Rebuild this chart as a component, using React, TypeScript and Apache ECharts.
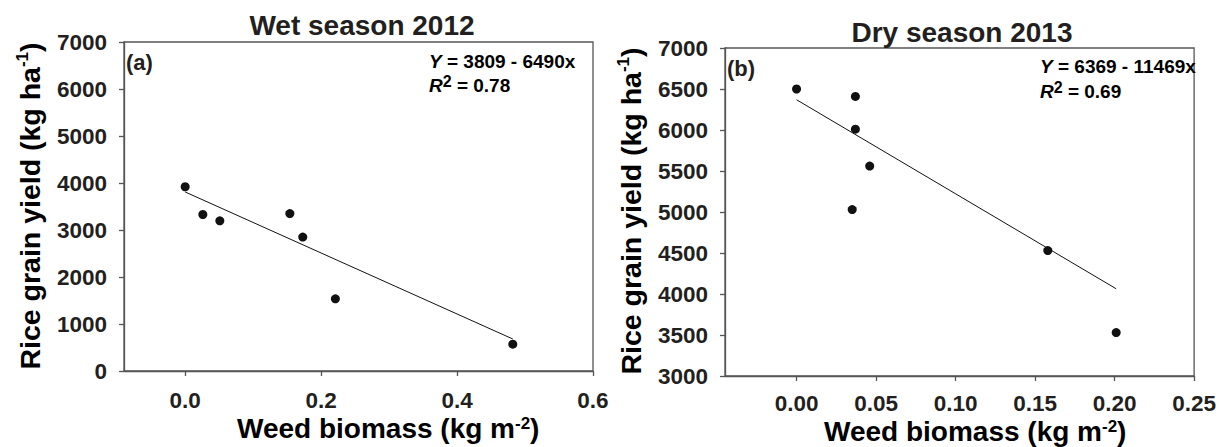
import React, { useEffect, useRef } from "react";
import * as echarts from "echarts";

// ---- Data ----
const wetBiomass = [0.0, 0.026, 0.051, 0.154, 0.173, 0.221, 0.482];
const wetYield = [3920, 3330, 3195, 3350, 2850, 1535, 570];
const dryBiomass = [0.0, 0.037, 0.037, 0.046, 0.035, 0.158, 0.201];
const dryYield = [6500, 6410, 6010, 5560, 5030, 4530, 3530];

// Regression equations printed on the panels
const wetFitCoef = [3809, -6490];
const dryFitCoef = [6369, -11469];

const wetXTicks = [0, 0.2, 0.4, 0.6];
const dryXTicks = [0, 0.05, 0.1, 0.15, 0.2, 0.25];

const panelTitles = ["Wet season 2012", "Dry season 2013"];
const panelLetters = ["(a)", "(b)"];
const equations = ["3809 - 6490x", "6369 - 11469x"];
const r2Values = ["0.78", "0.69"];

const FONT = "'Liberation Sans', Arial, Helvetica, sans-serif";
const TXT = "#231f20";
const AX = "#555555";

function fitLine(coef: number[], xs: number[]) {
  const xMin = Math.min(...xs);
  const xMax = Math.max(...xs);
  return [
    [xMin, coef[0] + coef[1] * xMin],
    [xMax, coef[0] + coef[1] * xMax],
  ];
}

export default function App() {
  const ref = useRef<HTMLDivElement>(null);

  useEffect(() => {
    document.body.style.margin = "0";
    if (!ref.current) return;
    const chart = echarts.init(ref.current, undefined, { renderer: "svg" });

    const axisLine = { show: true, onZero: false, lineStyle: { color: AX, width: 1.3 } };
    const labelBase = {
      fontSize: 22.5,
      lineHeight: 20,
      fontWeight: "bold" as const,
      color: TXT,
      fontFamily: FONT,
    };

    const yTitleRich = {
      n: { fontSize: 28.5, fontWeight: "bold", fontFamily: FONT, color: TXT, lineHeight: 32 },
      s: { fontSize: 17, fontWeight: "bold", fontFamily: FONT, color: TXT, lineHeight: 16, verticalAlign: "top" },
    };
    const xTitleRich = {
      n: { fontSize: 28, fontWeight: "bold", fontFamily: FONT, color: TXT, lineHeight: 26 },
      s: { fontSize: 17, fontWeight: "bold", fontFamily: FONT, color: TXT, lineHeight: 11, verticalAlign: "top" },
    };
    const eqRich = {
      i: { fontSize: 19, fontWeight: "bold", fontStyle: "italic", fontFamily: FONT, color: TXT, lineHeight: 24 },
      n: { fontSize: 19, fontWeight: "bold", fontFamily: FONT, color: TXT, lineHeight: 24 },
      s: { fontSize: 16, fontWeight: "bold", fontFamily: FONT, color: TXT, lineHeight: 11, verticalAlign: "top" },
    };

    const textEl = (x: number, y: number, text: string, size: number, align = "center") => ({
      type: "text",
      x,
      y,
      style: {
        text,
        fontSize: size,
        fontWeight: "bold",
        fontFamily: FONT,
        fill: TXT,
        align,
        verticalAlign: "middle",
      },
    });

    const richEl = (x: number, y: number, text: string, rich: any, align = "left", rotation = 0) => ({
      type: "text",
      x,
      y,
      rotation,
      style: { text, rich, align, verticalAlign: "middle" },
    });

    const option: any = {
      animation: false,
      grid: [
        { left: 124, top: 42, width: 469, height: 329, show: true, borderColor: AX, borderWidth: 1.3 },
        { left: 725, top: 48, width: 472, height: 328, show: true, borderColor: AX, borderWidth: 1.3 },
      ],
      xAxis: [
        {
          gridIndex: 0,
          type: "value",
          min: -0.09,
          max: 0.6,
          axisLine,
          axisTick: { show: true, length: 5, customValues: wetXTicks, lineStyle: { color: AX, width: 1.3 } },
          axisLabel: { ...labelBase, margin: 19, customValues: wetXTicks, formatter: (v: number) => v.toFixed(1) },
          splitLine: { show: false },
        },
        {
          gridIndex: 1,
          type: "value",
          min: -0.045,
          max: 0.25,
          axisLine,
          axisTick: { show: true, length: 5, customValues: dryXTicks, lineStyle: { color: AX, width: 1.3 } },
          axisLabel: { ...labelBase, margin: 17, customValues: dryXTicks, formatter: (v: number) => v.toFixed(2) },
          splitLine: { show: false },
        },
      ],
      yAxis: [
        {
          gridIndex: 0,
          type: "value",
          min: 0,
          max: 7000,
          interval: 1000,
          axisLine,
          axisTick: { show: true, length: 5, lineStyle: { color: AX, width: 1.3 } },
          axisLabel: { ...labelBase, margin: 17, formatter: (v: number) => String(v) },
          splitLine: { show: false },
        },
        {
          gridIndex: 1,
          type: "value",
          min: 3000,
          max: 7000,
          interval: 500,
          axisLine,
          axisTick: { show: true, length: 5, lineStyle: { color: AX, width: 1.3 } },
          axisLabel: { ...labelBase, margin: 17, formatter: (v: number) => String(v) },
          splitLine: { show: false },
        },
      ],
      series: [
        {
          type: "scatter",
          xAxisIndex: 0,
          yAxisIndex: 0,
          symbol: "circle",
          symbolSize: 9,
          itemStyle: { color: "#111111", opacity: 1 },
          data: wetBiomass.map((x, i) => [x, wetYield[i]]),
        },
        {
          type: "line",
          xAxisIndex: 0,
          yAxisIndex: 0,
          symbol: "none",
          lineStyle: { color: "#111111", width: 1 },
          data: fitLine(wetFitCoef, wetBiomass),
        },
        {
          type: "scatter",
          xAxisIndex: 1,
          yAxisIndex: 1,
          symbol: "circle",
          symbolSize: 9,
          itemStyle: { color: "#111111", opacity: 1 },
          data: dryBiomass.map((x, i) => [x, dryYield[i]]),
        },
        {
          type: "line",
          xAxisIndex: 1,
          yAxisIndex: 1,
          symbol: "none",
          lineStyle: { color: "#111111", width: 1 },
          data: fitLine(dryFitCoef, dryBiomass),
        },
      ],
      graphic: [
        // panel titles
        textEl(362, 25, panelTitles[0], 28),
        textEl(962, 32, panelTitles[1], 28),
        // panel letters
        textEl(126, 62, panelLetters[0], 22, "left"),
        textEl(727, 68, panelLetters[1], 22, "left"),
        // equations
        richEl(429, 61, `{i|Y}{n| = ${equations[0]}}`, eqRich),
        richEl(429, 85, `{i|R}{s|2}{n| = ${r2Values[0]}}`, eqRich),
        richEl(1040, 66, `{i|Y}{n| = ${equations[1]}}`, eqRich),
        richEl(1040, 91, `{i|R}{s|2}{n| = ${r2Values[1]}}`, eqRich),
        // x axis titles
        richEl(237, 428, "{n|Weed biomass (kg m}{s|-2}{n|)}", xTitleRich),
        richEl(824, 431, "{n|Weed biomass (kg m}{s|-2}{n|)}", xTitleRich),
        // y axis titles
        richEl(30, 206, "{n|Rice grain yield (kg ha}{s|-1}{n|)}", yTitleRich, "center", Math.PI / 2),
        richEl(631, 211, "{n|Rice grain yield (kg ha}{s|-1}{n|)}", yTitleRich, "center", Math.PI / 2),
      ],
    };

    chart.setOption(option);
    return () => chart.dispose();
  }, []);

  return <div ref={ref} style={{ width: 1219, height: 447, background: "#ffffff" }} />;
}
